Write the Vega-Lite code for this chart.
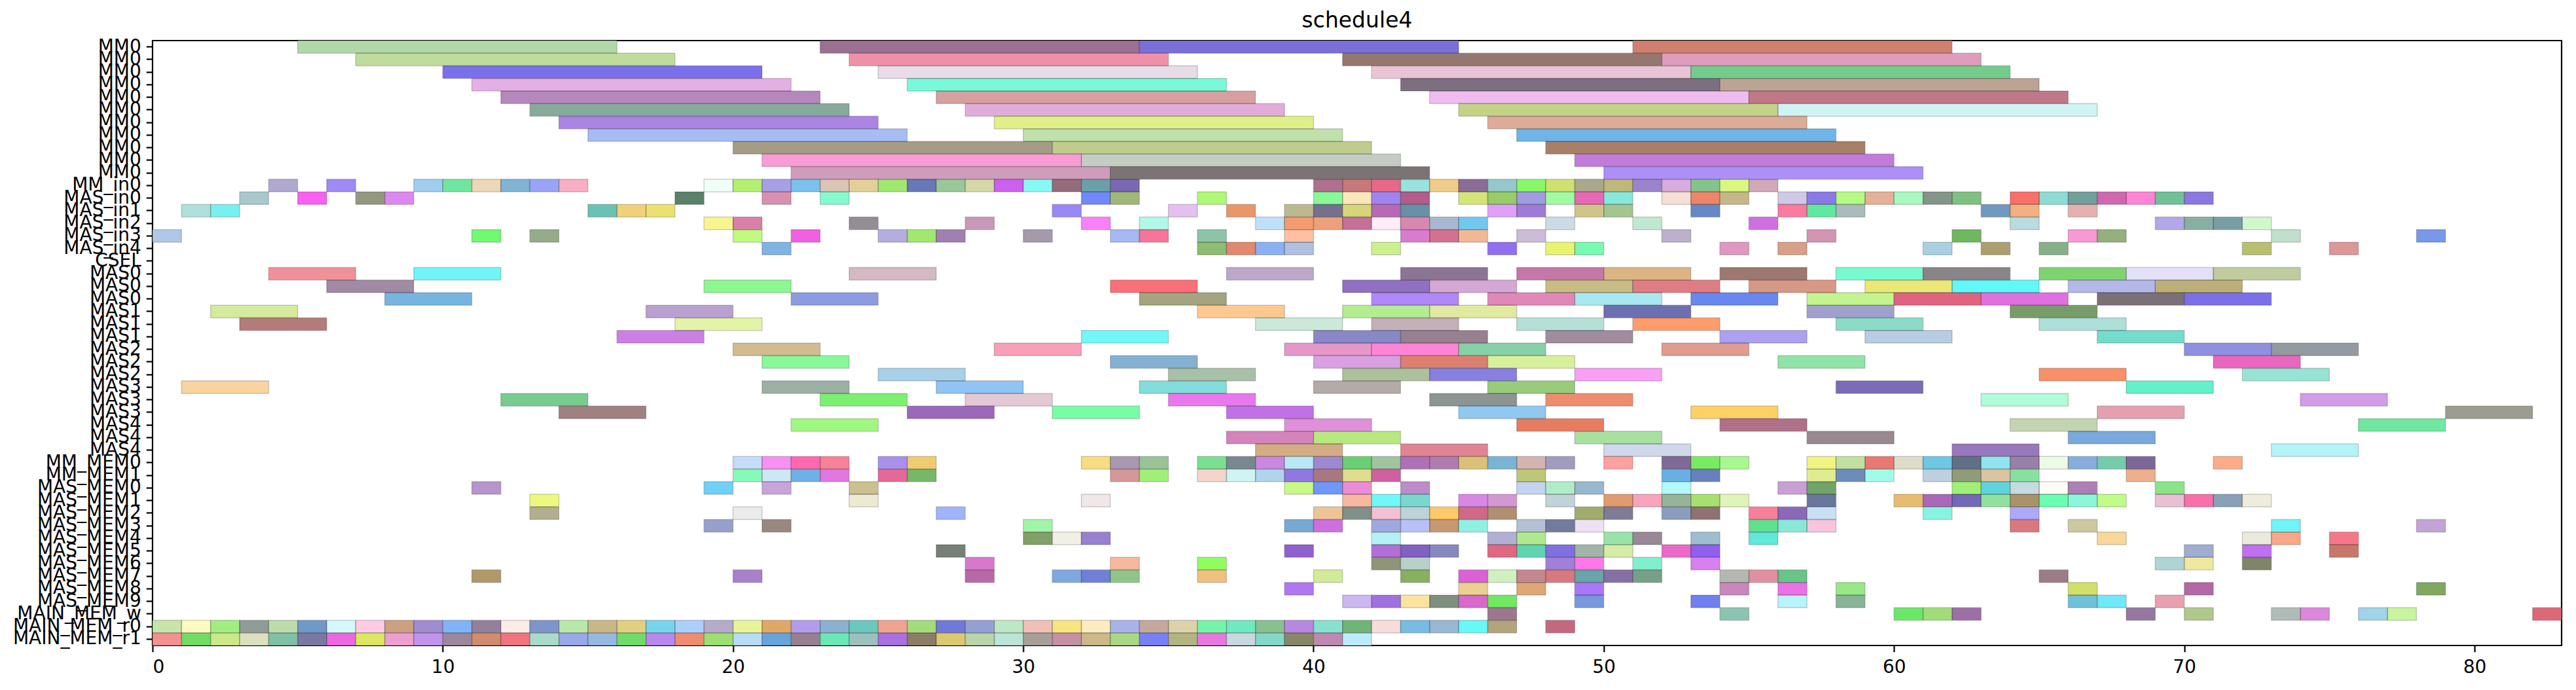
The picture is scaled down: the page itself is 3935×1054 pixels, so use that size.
{
  "$schema": "https://vega.github.io/schema/vega-lite/v6.json",
  "width": 3680,
  "height": 924,
  "autosize": {"type": "none"},
  "padding": {"left": 233, "top": 62, "right": 22, "bottom": 68},
  "background": "white",
  "title": {"text": "schedule4", "font": "DejaVu Sans", "fontSize": 33, "fontWeight": "normal", "color": "black", "offset": 8},
  "config": {
    "view": {"stroke": "black", "strokeWidth": 2.2},
    "axis": {"domain": false, "grid": false, "labelFont": "DejaVu Sans", "labelFontSize": 28, "labelColor": "black", "tickColor": "black", "tickSize": 9.7, "tickWidth": 2.2, "labelOverlap": false, "title": null}
  },
  "data": {"values": [
    {"lane":"00","start":5,"end":16,"task":"000"},{"lane":"00","start":23,"end":34,"task":"001"},{"lane":"00","start":34,"end":45,"task":"002"},{"lane":"00","start":51,"end":62,"task":"003"},
    {"lane":"01","start":7,"end":18,"task":"004"},{"lane":"01","start":24,"end":35,"task":"005"},{"lane":"01","start":41,"end":52,"task":"006"},{"lane":"01","start":52,"end":63,"task":"007"},
    {"lane":"02","start":10,"end":21,"task":"008"},{"lane":"02","start":25,"end":36,"task":"009"},{"lane":"02","start":42,"end":53,"task":"010"},{"lane":"02","start":53,"end":64,"task":"011"},
    {"lane":"03","start":11,"end":22,"task":"012"},{"lane":"03","start":26,"end":37,"task":"013"},{"lane":"03","start":43,"end":54,"task":"014"},{"lane":"03","start":54,"end":65,"task":"015"},
    {"lane":"04","start":12,"end":23,"task":"016"},{"lane":"04","start":27,"end":38,"task":"017"},{"lane":"04","start":44,"end":55,"task":"018"},{"lane":"04","start":55,"end":66,"task":"019"},
    {"lane":"05","start":13,"end":24,"task":"020"},{"lane":"05","start":28,"end":39,"task":"021"},{"lane":"05","start":45,"end":56,"task":"022"},{"lane":"05","start":56,"end":67,"task":"023"},
    {"lane":"06","start":14,"end":25,"task":"024"},{"lane":"06","start":29,"end":40,"task":"025"},{"lane":"06","start":46,"end":57,"task":"026"},
    {"lane":"07","start":15,"end":26,"task":"027"},{"lane":"07","start":30,"end":41,"task":"028"},{"lane":"07","start":47,"end":58,"task":"029"},
    {"lane":"08","start":20,"end":31,"task":"030"},{"lane":"08","start":31,"end":42,"task":"031"},{"lane":"08","start":48,"end":59,"task":"032"},
    {"lane":"09","start":21,"end":32,"task":"033"},{"lane":"09","start":32,"end":43,"task":"034"},{"lane":"09","start":49,"end":60,"task":"035"},
    {"lane":"10","start":22,"end":33,"task":"036"},{"lane":"10","start":33,"end":44,"task":"037"},{"lane":"10","start":50,"end":61,"task":"038"},

    {"lane":"11","start":4,"end":5,"task":"039"},{"lane":"11","start":6,"end":7,"task":"040"},{"lane":"11","start":9,"end":10,"task":"041"},{"lane":"11","start":10,"end":11,"task":"042"},
    {"lane":"11","start":11,"end":12,"task":"043"},{"lane":"11","start":12,"end":13,"task":"044"},{"lane":"11","start":13,"end":14,"task":"045"},{"lane":"11","start":14,"end":15,"task":"046"},
    {"lane":"11","start":19,"end":20,"task":"047"},{"lane":"11","start":20,"end":21,"task":"048"},{"lane":"11","start":21,"end":22,"task":"049"},{"lane":"11","start":22,"end":23,"task":"050"},
    {"lane":"11","start":23,"end":24,"task":"051"},{"lane":"11","start":24,"end":25,"task":"052"},{"lane":"11","start":25,"end":26,"task":"053"},{"lane":"11","start":26,"end":27,"task":"054"},
    {"lane":"11","start":27,"end":28,"task":"055"},{"lane":"11","start":28,"end":29,"task":"056"},{"lane":"11","start":29,"end":30,"task":"057"},{"lane":"11","start":30,"end":31,"task":"058"},
    {"lane":"11","start":31,"end":32,"task":"059"},{"lane":"11","start":32,"end":33,"task":"060"},{"lane":"11","start":33,"end":34,"task":"061"},{"lane":"11","start":40,"end":41,"task":"062"},
    {"lane":"11","start":41,"end":42,"task":"063"},{"lane":"11","start":42,"end":43,"task":"064"},{"lane":"11","start":43,"end":44,"task":"065"},{"lane":"11","start":44,"end":45,"task":"066"},
    {"lane":"11","start":45,"end":46,"task":"067"},{"lane":"11","start":46,"end":47,"task":"068"},{"lane":"11","start":47,"end":48,"task":"069"},{"lane":"11","start":48,"end":49,"task":"070"},
    {"lane":"11","start":49,"end":50,"task":"071"},{"lane":"11","start":50,"end":51,"task":"072"},{"lane":"11","start":51,"end":52,"task":"073"},{"lane":"11","start":52,"end":53,"task":"074"},
    {"lane":"11","start":53,"end":54,"task":"075"},{"lane":"11","start":54,"end":55,"task":"076"},{"lane":"11","start":55,"end":56,"task":"077"},

    {"lane":"12","start":3,"end":4,"task":"078"},{"lane":"12","start":5,"end":6,"task":"079"},{"lane":"12","start":7,"end":8,"task":"080"},{"lane":"12","start":8,"end":9,"task":"081"},
    {"lane":"12","start":18,"end":19,"task":"082"},{"lane":"12","start":21,"end":22,"task":"083"},{"lane":"12","start":23,"end":24,"task":"084"},{"lane":"12","start":32,"end":33,"task":"085"},
    {"lane":"12","start":33,"end":34,"task":"086"},{"lane":"12","start":36,"end":37,"task":"087"},{"lane":"12","start":40,"end":41,"task":"088"},{"lane":"12","start":41,"end":42,"task":"089"},
    {"lane":"12","start":42,"end":43,"task":"090"},{"lane":"12","start":43,"end":44,"task":"091"},{"lane":"12","start":45,"end":46,"task":"092"},{"lane":"12","start":46,"end":47,"task":"093"},
    {"lane":"12","start":47,"end":48,"task":"094"},{"lane":"12","start":48,"end":49,"task":"095"},{"lane":"12","start":49,"end":50,"task":"096"},{"lane":"12","start":50,"end":51,"task":"097"},
    {"lane":"12","start":52,"end":53,"task":"098"},{"lane":"12","start":53,"end":54,"task":"099"},{"lane":"12","start":54,"end":55,"task":"100"},{"lane":"12","start":56,"end":57,"task":"101"},
    {"lane":"12","start":57,"end":58,"task":"102"},{"lane":"12","start":58,"end":59,"task":"103"},{"lane":"12","start":59,"end":60,"task":"104"},{"lane":"12","start":60,"end":61,"task":"105"},
    {"lane":"12","start":61,"end":62,"task":"106"},{"lane":"12","start":62,"end":63,"task":"107"},{"lane":"12","start":64,"end":65,"task":"108"},{"lane":"12","start":65,"end":66,"task":"109"},
    {"lane":"12","start":66,"end":67,"task":"110"},{"lane":"12","start":67,"end":68,"task":"111"},{"lane":"12","start":68,"end":69,"task":"112"},{"lane":"12","start":69,"end":70,"task":"113"},
    {"lane":"12","start":70,"end":71,"task":"114"},

    {"lane":"13","start":1,"end":2,"task":"115"},{"lane":"13","start":2,"end":3,"task":"116"},{"lane":"13","start":15,"end":16,"task":"117"},{"lane":"13","start":16,"end":17,"task":"118"},
    {"lane":"13","start":17,"end":18,"task":"119"},{"lane":"13","start":31,"end":32,"task":"120"},{"lane":"13","start":35,"end":36,"task":"121"},{"lane":"13","start":37,"end":38,"task":"122"},
    {"lane":"13","start":39,"end":40,"task":"123"},{"lane":"13","start":40,"end":41,"task":"124"},{"lane":"13","start":41,"end":42,"task":"125"},{"lane":"13","start":42,"end":43,"task":"126"},
    {"lane":"13","start":43,"end":44,"task":"127"},{"lane":"13","start":46,"end":47,"task":"128"},{"lane":"13","start":47,"end":48,"task":"129"},{"lane":"13","start":49,"end":50,"task":"130"},
    {"lane":"13","start":50,"end":51,"task":"131"},{"lane":"13","start":53,"end":54,"task":"132"},{"lane":"13","start":56,"end":57,"task":"133"},{"lane":"13","start":57,"end":58,"task":"134"},
    {"lane":"13","start":58,"end":59,"task":"135"},{"lane":"13","start":63,"end":64,"task":"136"},{"lane":"13","start":64,"end":65,"task":"137"},{"lane":"13","start":66,"end":67,"task":"138"},

    {"lane":"14","start":19,"end":20,"task":"139"},{"lane":"14","start":20,"end":21,"task":"140"},{"lane":"14","start":24,"end":25,"task":"141"},{"lane":"14","start":28,"end":29,"task":"142"},
    {"lane":"14","start":32,"end":33,"task":"143"},{"lane":"14","start":34,"end":35,"task":"144"},{"lane":"14","start":38,"end":39,"task":"145"},{"lane":"14","start":39,"end":40,"task":"146"},
    {"lane":"14","start":40,"end":41,"task":"147"},{"lane":"14","start":41,"end":42,"task":"148"},{"lane":"14","start":42,"end":43,"task":"149"},{"lane":"14","start":43,"end":44,"task":"150"},
    {"lane":"14","start":44,"end":45,"task":"151"},{"lane":"14","start":45,"end":46,"task":"152"},{"lane":"14","start":48,"end":49,"task":"153"},{"lane":"14","start":51,"end":52,"task":"154"},
    {"lane":"14","start":55,"end":56,"task":"155"},{"lane":"14","start":64,"end":65,"task":"156"},{"lane":"14","start":69,"end":70,"task":"157"},{"lane":"14","start":70,"end":71,"task":"158"},
    {"lane":"14","start":71,"end":72,"task":"159"},{"lane":"14","start":72,"end":73,"task":"160"},

    {"lane":"15","start":0,"end":1,"task":"161"},{"lane":"15","start":11,"end":12,"task":"162"},{"lane":"15","start":13,"end":14,"task":"163"},{"lane":"15","start":20,"end":21,"task":"164"},
    {"lane":"15","start":22,"end":23,"task":"165"},{"lane":"15","start":25,"end":26,"task":"166"},{"lane":"15","start":26,"end":27,"task":"167"},{"lane":"15","start":27,"end":28,"task":"168"},
    {"lane":"15","start":30,"end":31,"task":"169"},{"lane":"15","start":33,"end":34,"task":"170"},{"lane":"15","start":34,"end":35,"task":"171"},{"lane":"15","start":36,"end":37,"task":"172"},
    {"lane":"15","start":39,"end":40,"task":"173"},{"lane":"15","start":43,"end":44,"task":"174"},{"lane":"15","start":44,"end":45,"task":"175"},{"lane":"15","start":45,"end":46,"task":"176"},
    {"lane":"15","start":47,"end":48,"task":"177"},{"lane":"15","start":52,"end":53,"task":"178"},{"lane":"15","start":57,"end":58,"task":"179"},{"lane":"15","start":62,"end":63,"task":"180"},
    {"lane":"15","start":66,"end":67,"task":"181"},{"lane":"15","start":67,"end":68,"task":"182"},{"lane":"15","start":73,"end":74,"task":"183"},{"lane":"15","start":78,"end":79,"task":"184"},

    {"lane":"16","start":21,"end":22,"task":"185"},{"lane":"16","start":36,"end":37,"task":"186"},{"lane":"16","start":37,"end":38,"task":"187"},{"lane":"16","start":38,"end":39,"task":"188"},
    {"lane":"16","start":39,"end":40,"task":"189"},{"lane":"16","start":42,"end":43,"task":"190"},{"lane":"16","start":46,"end":47,"task":"191"},{"lane":"16","start":48,"end":49,"task":"192"},
    {"lane":"16","start":49,"end":50,"task":"193"},{"lane":"16","start":54,"end":55,"task":"194"},{"lane":"16","start":56,"end":57,"task":"195"},{"lane":"16","start":61,"end":62,"task":"196"},
    {"lane":"16","start":63,"end":64,"task":"197"},{"lane":"16","start":65,"end":66,"task":"198"},{"lane":"16","start":72,"end":73,"task":"199"},{"lane":"16","start":75,"end":76,"task":"200"},

    {"lane":"18","start":4,"end":7,"task":"201"},{"lane":"18","start":9,"end":12,"task":"202"},{"lane":"18","start":24,"end":27,"task":"203"},{"lane":"18","start":37,"end":40,"task":"204"},
    {"lane":"18","start":43,"end":46,"task":"205"},{"lane":"18","start":47,"end":50,"task":"206"},{"lane":"18","start":50,"end":53,"task":"207"},{"lane":"18","start":54,"end":57,"task":"208"},
    {"lane":"18","start":58,"end":61,"task":"209"},{"lane":"18","start":61,"end":64,"task":"210"},{"lane":"18","start":65,"end":68,"task":"211"},{"lane":"18","start":68,"end":71,"task":"212"},
    {"lane":"18","start":71,"end":74,"task":"213"},

    {"lane":"19","start":6,"end":9,"task":"214"},{"lane":"19","start":19,"end":22,"task":"215"},{"lane":"19","start":33,"end":36,"task":"216"},{"lane":"19","start":41,"end":44,"task":"217"},
    {"lane":"19","start":44,"end":47,"task":"218"},{"lane":"19","start":48,"end":51,"task":"219"},{"lane":"19","start":51,"end":54,"task":"220"},{"lane":"19","start":55,"end":58,"task":"221"},
    {"lane":"19","start":59,"end":62,"task":"222"},{"lane":"19","start":62,"end":65,"task":"223"},{"lane":"19","start":66,"end":69,"task":"224"},{"lane":"19","start":69,"end":72,"task":"225"},

    {"lane":"20","start":8,"end":11,"task":"226"},{"lane":"20","start":22,"end":25,"task":"227"},{"lane":"20","start":34,"end":37,"task":"228"},{"lane":"20","start":42,"end":45,"task":"229"},
    {"lane":"20","start":46,"end":49,"task":"230"},{"lane":"20","start":49,"end":52,"task":"231"},{"lane":"20","start":53,"end":56,"task":"232"},{"lane":"20","start":57,"end":60,"task":"233"},
    {"lane":"20","start":60,"end":63,"task":"234"},{"lane":"20","start":63,"end":66,"task":"235"},{"lane":"20","start":67,"end":70,"task":"236"},{"lane":"20","start":70,"end":73,"task":"237"},

    {"lane":"21","start":2,"end":5,"task":"238"},{"lane":"21","start":17,"end":20,"task":"239"},{"lane":"21","start":36,"end":39,"task":"240"},{"lane":"21","start":41,"end":44,"task":"241"},
    {"lane":"21","start":44,"end":47,"task":"242"},{"lane":"21","start":50,"end":53,"task":"243"},{"lane":"21","start":57,"end":60,"task":"244"},{"lane":"21","start":64,"end":67,"task":"245"},

    {"lane":"22","start":3,"end":6,"task":"246"},{"lane":"22","start":18,"end":21,"task":"247"},{"lane":"22","start":38,"end":41,"task":"248"},{"lane":"22","start":42,"end":45,"task":"249"},
    {"lane":"22","start":47,"end":50,"task":"250"},{"lane":"22","start":51,"end":54,"task":"251"},{"lane":"22","start":58,"end":61,"task":"252"},{"lane":"22","start":65,"end":68,"task":"253"},

    {"lane":"23","start":16,"end":19,"task":"254"},{"lane":"23","start":32,"end":35,"task":"255"},{"lane":"23","start":40,"end":43,"task":"256"},{"lane":"23","start":43,"end":46,"task":"257"},
    {"lane":"23","start":48,"end":51,"task":"258"},{"lane":"23","start":54,"end":57,"task":"259"},{"lane":"23","start":59,"end":62,"task":"260"},{"lane":"23","start":67,"end":70,"task":"261"},

    {"lane":"24","start":20,"end":23,"task":"262"},{"lane":"24","start":29,"end":32,"task":"263"},{"lane":"24","start":39,"end":42,"task":"264"},{"lane":"24","start":42,"end":45,"task":"265"},
    {"lane":"24","start":45,"end":48,"task":"266"},{"lane":"24","start":52,"end":55,"task":"267"},{"lane":"24","start":70,"end":73,"task":"268"},{"lane":"24","start":73,"end":76,"task":"269"},

    {"lane":"25","start":21,"end":24,"task":"270"},{"lane":"25","start":33,"end":36,"task":"271"},{"lane":"25","start":40,"end":43,"task":"272"},{"lane":"25","start":43,"end":46,"task":"273"},
    {"lane":"25","start":46,"end":49,"task":"274"},{"lane":"25","start":56,"end":59,"task":"275"},{"lane":"25","start":71,"end":74,"task":"276"},

    {"lane":"26","start":25,"end":28,"task":"277"},{"lane":"26","start":35,"end":38,"task":"278"},{"lane":"26","start":41,"end":44,"task":"279"},{"lane":"26","start":44,"end":47,"task":"280"},
    {"lane":"26","start":49,"end":52,"task":"281"},{"lane":"26","start":65,"end":68,"task":"282"},{"lane":"26","start":72,"end":75,"task":"283"},

    {"lane":"27","start":1,"end":4,"task":"284"},{"lane":"27","start":21,"end":24,"task":"285"},{"lane":"27","start":27,"end":30,"task":"286"},{"lane":"27","start":34,"end":37,"task":"287"},
    {"lane":"27","start":40,"end":43,"task":"288"},{"lane":"27","start":46,"end":49,"task":"289"},{"lane":"27","start":58,"end":61,"task":"290"},{"lane":"27","start":68,"end":71,"task":"291"},

    {"lane":"28","start":12,"end":15,"task":"292"},{"lane":"28","start":23,"end":26,"task":"293"},{"lane":"28","start":28,"end":31,"task":"294"},{"lane":"28","start":35,"end":38,"task":"295"},
    {"lane":"28","start":44,"end":47,"task":"296"},{"lane":"28","start":48,"end":51,"task":"297"},{"lane":"28","start":63,"end":66,"task":"298"},{"lane":"28","start":74,"end":77,"task":"299"},

    {"lane":"29","start":14,"end":17,"task":"300"},{"lane":"29","start":26,"end":29,"task":"301"},{"lane":"29","start":31,"end":34,"task":"302"},{"lane":"29","start":37,"end":40,"task":"303"},
    {"lane":"29","start":45,"end":48,"task":"304"},{"lane":"29","start":53,"end":56,"task":"305"},{"lane":"29","start":67,"end":70,"task":"306"},{"lane":"29","start":79,"end":82,"task":"307"},

    {"lane":"30","start":22,"end":25,"task":"308"},{"lane":"30","start":39,"end":42,"task":"309"},{"lane":"30","start":47,"end":50,"task":"310"},{"lane":"30","start":54,"end":57,"task":"311"},
    {"lane":"30","start":64,"end":67,"task":"312"},{"lane":"30","start":76,"end":79,"task":"313"},

    {"lane":"31","start":37,"end":40,"task":"314"},{"lane":"31","start":40,"end":43,"task":"315"},{"lane":"31","start":49,"end":52,"task":"316"},{"lane":"31","start":57,"end":60,"task":"317"},
    {"lane":"31","start":66,"end":69,"task":"318"},

    {"lane":"32","start":38,"end":41,"task":"319"},{"lane":"32","start":43,"end":46,"task":"320"},{"lane":"32","start":50,"end":53,"task":"321"},{"lane":"32","start":62,"end":65,"task":"322"},
    {"lane":"32","start":73,"end":76,"task":"323"},

    {"lane":"33","start":20,"end":21,"task":"324"},{"lane":"33","start":21,"end":22,"task":"325"},{"lane":"33","start":22,"end":23,"task":"326"},{"lane":"33","start":23,"end":24,"task":"327"},
    {"lane":"33","start":25,"end":26,"task":"328"},{"lane":"33","start":26,"end":27,"task":"329"},{"lane":"33","start":32,"end":33,"task":"330"},{"lane":"33","start":33,"end":34,"task":"331"},
    {"lane":"33","start":34,"end":35,"task":"332"},{"lane":"33","start":36,"end":37,"task":"333"},{"lane":"33","start":37,"end":38,"task":"334"},{"lane":"33","start":38,"end":39,"task":"335"},
    {"lane":"33","start":39,"end":40,"task":"336"},{"lane":"33","start":40,"end":41,"task":"337"},{"lane":"33","start":41,"end":42,"task":"338"},{"lane":"33","start":42,"end":43,"task":"339"},
    {"lane":"33","start":43,"end":44,"task":"340"},{"lane":"33","start":44,"end":45,"task":"341"},{"lane":"33","start":45,"end":46,"task":"342"},{"lane":"33","start":46,"end":47,"task":"343"},
    {"lane":"33","start":47,"end":48,"task":"344"},{"lane":"33","start":48,"end":49,"task":"345"},{"lane":"33","start":50,"end":51,"task":"346"},{"lane":"33","start":52,"end":53,"task":"347"},
    {"lane":"33","start":53,"end":54,"task":"348"},{"lane":"33","start":54,"end":55,"task":"349"},{"lane":"33","start":57,"end":58,"task":"350"},{"lane":"33","start":58,"end":59,"task":"351"},
    {"lane":"33","start":59,"end":60,"task":"352"},{"lane":"33","start":60,"end":61,"task":"353"},{"lane":"33","start":61,"end":62,"task":"354"},{"lane":"33","start":62,"end":63,"task":"355"},
    {"lane":"33","start":63,"end":64,"task":"356"},{"lane":"33","start":64,"end":65,"task":"357"},{"lane":"33","start":65,"end":66,"task":"358"},{"lane":"33","start":66,"end":67,"task":"359"},
    {"lane":"33","start":67,"end":68,"task":"360"},{"lane":"33","start":68,"end":69,"task":"361"},{"lane":"33","start":71,"end":72,"task":"362"},

    {"lane":"34","start":20,"end":21,"task":"363"},{"lane":"34","start":21,"end":22,"task":"364"},{"lane":"34","start":22,"end":23,"task":"365"},{"lane":"34","start":23,"end":24,"task":"366"},
    {"lane":"34","start":25,"end":26,"task":"367"},{"lane":"34","start":26,"end":27,"task":"368"},{"lane":"34","start":33,"end":34,"task":"369"},{"lane":"34","start":34,"end":35,"task":"370"},
    {"lane":"34","start":36,"end":37,"task":"371"},{"lane":"34","start":37,"end":38,"task":"372"},{"lane":"34","start":38,"end":39,"task":"373"},{"lane":"34","start":39,"end":40,"task":"374"},
    {"lane":"34","start":40,"end":41,"task":"375"},{"lane":"34","start":41,"end":42,"task":"376"},{"lane":"34","start":42,"end":43,"task":"377"},{"lane":"34","start":47,"end":48,"task":"378"},
    {"lane":"34","start":52,"end":53,"task":"379"},{"lane":"34","start":53,"end":54,"task":"380"},{"lane":"34","start":57,"end":58,"task":"381"},{"lane":"34","start":58,"end":59,"task":"382"},
    {"lane":"34","start":59,"end":60,"task":"383"},{"lane":"34","start":61,"end":62,"task":"384"},{"lane":"34","start":62,"end":63,"task":"385"},{"lane":"34","start":63,"end":64,"task":"386"},
    {"lane":"34","start":64,"end":65,"task":"387"},{"lane":"34","start":68,"end":69,"task":"388"},

    {"lane":"35","start":11,"end":12,"task":"389"},{"lane":"35","start":19,"end":20,"task":"390"},{"lane":"35","start":21,"end":22,"task":"391"},{"lane":"35","start":24,"end":25,"task":"392"},
    {"lane":"35","start":39,"end":40,"task":"393"},{"lane":"35","start":40,"end":41,"task":"394"},{"lane":"35","start":41,"end":42,"task":"395"},{"lane":"35","start":43,"end":44,"task":"396"},
    {"lane":"35","start":47,"end":48,"task":"397"},{"lane":"35","start":48,"end":49,"task":"398"},{"lane":"35","start":49,"end":50,"task":"399"},{"lane":"35","start":52,"end":53,"task":"400"},
    {"lane":"35","start":56,"end":57,"task":"401"},{"lane":"35","start":57,"end":58,"task":"402"},{"lane":"35","start":62,"end":63,"task":"403"},{"lane":"35","start":63,"end":64,"task":"404"},
    {"lane":"35","start":64,"end":65,"task":"405"},{"lane":"35","start":65,"end":66,"task":"406"},{"lane":"35","start":66,"end":67,"task":"407"},{"lane":"35","start":69,"end":70,"task":"408"},

    {"lane":"36","start":13,"end":14,"task":"409"},{"lane":"36","start":24,"end":25,"task":"410"},{"lane":"36","start":32,"end":33,"task":"411"},{"lane":"36","start":41,"end":42,"task":"412"},
    {"lane":"36","start":42,"end":43,"task":"413"},{"lane":"36","start":43,"end":44,"task":"414"},{"lane":"36","start":45,"end":46,"task":"415"},{"lane":"36","start":46,"end":47,"task":"416"},
    {"lane":"36","start":48,"end":49,"task":"417"},{"lane":"36","start":50,"end":51,"task":"418"},{"lane":"36","start":51,"end":52,"task":"419"},{"lane":"36","start":52,"end":53,"task":"420"},
    {"lane":"36","start":53,"end":54,"task":"421"},{"lane":"36","start":54,"end":55,"task":"422"},{"lane":"36","start":57,"end":58,"task":"423"},{"lane":"36","start":60,"end":61,"task":"424"},
    {"lane":"36","start":61,"end":62,"task":"425"},{"lane":"36","start":62,"end":63,"task":"426"},{"lane":"36","start":63,"end":64,"task":"427"},{"lane":"36","start":64,"end":65,"task":"428"},
    {"lane":"36","start":65,"end":66,"task":"429"},{"lane":"36","start":66,"end":67,"task":"430"},{"lane":"36","start":67,"end":68,"task":"431"},{"lane":"36","start":69,"end":70,"task":"432"},
    {"lane":"36","start":70,"end":71,"task":"433"},{"lane":"36","start":71,"end":72,"task":"434"},{"lane":"36","start":72,"end":73,"task":"435"},

    {"lane":"37","start":13,"end":14,"task":"436"},{"lane":"37","start":20,"end":21,"task":"437"},{"lane":"37","start":27,"end":28,"task":"438"},{"lane":"37","start":40,"end":41,"task":"439"},
    {"lane":"37","start":41,"end":42,"task":"440"},{"lane":"37","start":42,"end":43,"task":"441"},{"lane":"37","start":43,"end":44,"task":"442"},{"lane":"37","start":44,"end":45,"task":"443"},
    {"lane":"37","start":45,"end":46,"task":"444"},{"lane":"37","start":46,"end":47,"task":"445"},{"lane":"37","start":49,"end":50,"task":"446"},{"lane":"37","start":50,"end":51,"task":"447"},
    {"lane":"37","start":52,"end":53,"task":"448"},{"lane":"37","start":53,"end":54,"task":"449"},{"lane":"37","start":55,"end":56,"task":"450"},{"lane":"37","start":56,"end":57,"task":"451"},
    {"lane":"37","start":57,"end":58,"task":"452"},{"lane":"37","start":61,"end":62,"task":"453"},{"lane":"37","start":64,"end":65,"task":"454"},

    {"lane":"38","start":19,"end":20,"task":"455"},{"lane":"38","start":21,"end":22,"task":"456"},{"lane":"38","start":30,"end":31,"task":"457"},{"lane":"38","start":39,"end":40,"task":"458"},
    {"lane":"38","start":40,"end":41,"task":"459"},{"lane":"38","start":42,"end":43,"task":"460"},{"lane":"38","start":43,"end":44,"task":"461"},{"lane":"38","start":44,"end":45,"task":"462"},
    {"lane":"38","start":45,"end":46,"task":"463"},{"lane":"38","start":47,"end":48,"task":"464"},{"lane":"38","start":48,"end":49,"task":"465"},{"lane":"38","start":49,"end":50,"task":"466"},
    {"lane":"38","start":55,"end":56,"task":"467"},{"lane":"38","start":56,"end":57,"task":"468"},{"lane":"38","start":57,"end":58,"task":"469"},{"lane":"38","start":64,"end":65,"task":"470"},
    {"lane":"38","start":66,"end":67,"task":"471"},{"lane":"38","start":73,"end":74,"task":"472"},{"lane":"38","start":78,"end":79,"task":"473"},

    {"lane":"39","start":30,"end":31,"task":"474"},{"lane":"39","start":31,"end":32,"task":"475"},{"lane":"39","start":32,"end":33,"task":"476"},{"lane":"39","start":42,"end":43,"task":"477"},
    {"lane":"39","start":46,"end":47,"task":"478"},{"lane":"39","start":47,"end":48,"task":"479"},{"lane":"39","start":50,"end":51,"task":"480"},{"lane":"39","start":51,"end":52,"task":"481"},
    {"lane":"39","start":53,"end":54,"task":"482"},{"lane":"39","start":55,"end":56,"task":"483"},{"lane":"39","start":67,"end":68,"task":"484"},{"lane":"39","start":72,"end":73,"task":"485"},
    {"lane":"39","start":73,"end":74,"task":"486"},{"lane":"39","start":75,"end":76,"task":"487"},

    {"lane":"40","start":27,"end":28,"task":"488"},{"lane":"40","start":39,"end":40,"task":"489"},{"lane":"40","start":42,"end":43,"task":"490"},{"lane":"40","start":43,"end":44,"task":"491"},
    {"lane":"40","start":44,"end":45,"task":"492"},{"lane":"40","start":46,"end":47,"task":"493"},{"lane":"40","start":47,"end":48,"task":"494"},{"lane":"40","start":48,"end":49,"task":"495"},
    {"lane":"40","start":49,"end":50,"task":"496"},{"lane":"40","start":50,"end":51,"task":"497"},{"lane":"40","start":52,"end":53,"task":"498"},{"lane":"40","start":53,"end":54,"task":"499"},
    {"lane":"40","start":70,"end":71,"task":"500"},{"lane":"40","start":72,"end":73,"task":"501"},{"lane":"40","start":75,"end":76,"task":"502"},

    {"lane":"41","start":28,"end":29,"task":"503"},{"lane":"41","start":33,"end":34,"task":"504"},{"lane":"41","start":36,"end":37,"task":"505"},{"lane":"41","start":42,"end":43,"task":"506"},
    {"lane":"41","start":43,"end":44,"task":"507"},{"lane":"41","start":48,"end":49,"task":"508"},{"lane":"41","start":49,"end":50,"task":"509"},{"lane":"41","start":51,"end":52,"task":"510"},
    {"lane":"41","start":53,"end":54,"task":"511"},{"lane":"41","start":69,"end":70,"task":"512"},{"lane":"41","start":70,"end":71,"task":"513"},{"lane":"41","start":72,"end":73,"task":"514"},

    {"lane":"42","start":11,"end":12,"task":"515"},{"lane":"42","start":20,"end":21,"task":"516"},{"lane":"42","start":28,"end":29,"task":"517"},{"lane":"42","start":31,"end":32,"task":"518"},
    {"lane":"42","start":32,"end":33,"task":"519"},{"lane":"42","start":33,"end":34,"task":"520"},{"lane":"42","start":36,"end":37,"task":"521"},{"lane":"42","start":40,"end":41,"task":"522"},
    {"lane":"42","start":43,"end":44,"task":"523"},{"lane":"42","start":45,"end":46,"task":"524"},{"lane":"42","start":46,"end":47,"task":"525"},{"lane":"42","start":47,"end":48,"task":"526"},
    {"lane":"42","start":48,"end":49,"task":"527"},{"lane":"42","start":49,"end":50,"task":"528"},{"lane":"42","start":50,"end":51,"task":"529"},{"lane":"42","start":51,"end":52,"task":"530"},
    {"lane":"42","start":54,"end":55,"task":"531"},{"lane":"42","start":55,"end":56,"task":"532"},{"lane":"42","start":56,"end":57,"task":"533"},{"lane":"42","start":65,"end":66,"task":"534"},

    {"lane":"43","start":39,"end":40,"task":"535"},{"lane":"43","start":45,"end":46,"task":"536"},{"lane":"43","start":47,"end":48,"task":"537"},{"lane":"43","start":49,"end":50,"task":"538"},
    {"lane":"43","start":54,"end":55,"task":"539"},{"lane":"43","start":56,"end":57,"task":"540"},{"lane":"43","start":58,"end":59,"task":"541"},{"lane":"43","start":66,"end":67,"task":"542"},
    {"lane":"43","start":70,"end":71,"task":"543"},{"lane":"43","start":78,"end":79,"task":"544"},

    {"lane":"44","start":41,"end":42,"task":"545"},{"lane":"44","start":42,"end":43,"task":"546"},{"lane":"44","start":43,"end":44,"task":"547"},{"lane":"44","start":44,"end":45,"task":"548"},
    {"lane":"44","start":45,"end":46,"task":"549"},{"lane":"44","start":46,"end":47,"task":"550"},{"lane":"44","start":49,"end":50,"task":"551"},{"lane":"44","start":53,"end":54,"task":"552"},
    {"lane":"44","start":56,"end":57,"task":"553"},{"lane":"44","start":58,"end":59,"task":"554"},{"lane":"44","start":66,"end":67,"task":"555"},{"lane":"44","start":67,"end":68,"task":"556"},
    {"lane":"44","start":69,"end":70,"task":"557"},

    {"lane":"45","start":46,"end":47,"task":"558"},{"lane":"45","start":54,"end":55,"task":"559"},{"lane":"45","start":60,"end":61,"task":"560"},{"lane":"45","start":61,"end":62,"task":"561"},
    {"lane":"45","start":62,"end":63,"task":"562"},{"lane":"45","start":68,"end":69,"task":"563"},{"lane":"45","start":70,"end":71,"task":"564"},{"lane":"45","start":73,"end":74,"task":"565"},
    {"lane":"45","start":74,"end":75,"task":"566"},{"lane":"45","start":76,"end":77,"task":"567"},{"lane":"45","start":77,"end":78,"task":"568"},{"lane":"45","start":82,"end":83,"task":"569"},

    {"lane":"46","start":0,"end":1,"task":"570"},{"lane":"46","start":1,"end":2,"task":"571"},{"lane":"46","start":2,"end":3,"task":"572"},{"lane":"46","start":3,"end":4,"task":"573"},
    {"lane":"46","start":4,"end":5,"task":"574"},{"lane":"46","start":5,"end":6,"task":"575"},{"lane":"46","start":6,"end":7,"task":"576"},{"lane":"46","start":7,"end":8,"task":"577"},
    {"lane":"46","start":8,"end":9,"task":"578"},{"lane":"46","start":9,"end":10,"task":"579"},{"lane":"46","start":10,"end":11,"task":"580"},{"lane":"46","start":11,"end":12,"task":"581"},
    {"lane":"46","start":12,"end":13,"task":"582"},{"lane":"46","start":13,"end":14,"task":"583"},{"lane":"46","start":14,"end":15,"task":"584"},{"lane":"46","start":15,"end":16,"task":"585"},
    {"lane":"46","start":16,"end":17,"task":"586"},{"lane":"46","start":17,"end":18,"task":"587"},{"lane":"46","start":18,"end":19,"task":"588"},{"lane":"46","start":19,"end":20,"task":"589"},
    {"lane":"46","start":20,"end":21,"task":"590"},{"lane":"46","start":21,"end":22,"task":"591"},{"lane":"46","start":22,"end":23,"task":"592"},{"lane":"46","start":23,"end":24,"task":"593"},
    {"lane":"46","start":24,"end":25,"task":"594"},{"lane":"46","start":25,"end":26,"task":"595"},{"lane":"46","start":26,"end":27,"task":"596"},{"lane":"46","start":27,"end":28,"task":"597"},
    {"lane":"46","start":28,"end":29,"task":"598"},{"lane":"46","start":29,"end":30,"task":"599"},{"lane":"46","start":30,"end":31,"task":"600"},{"lane":"46","start":31,"end":32,"task":"601"},
    {"lane":"46","start":32,"end":33,"task":"602"},{"lane":"46","start":33,"end":34,"task":"603"},{"lane":"46","start":34,"end":35,"task":"604"},{"lane":"46","start":35,"end":36,"task":"605"},
    {"lane":"46","start":36,"end":37,"task":"606"},{"lane":"46","start":37,"end":38,"task":"607"},{"lane":"46","start":38,"end":39,"task":"608"},{"lane":"46","start":39,"end":40,"task":"609"},
    {"lane":"46","start":40,"end":41,"task":"610"},{"lane":"46","start":41,"end":42,"task":"611"},{"lane":"46","start":42,"end":43,"task":"612"},{"lane":"46","start":43,"end":44,"task":"613"},
    {"lane":"46","start":44,"end":45,"task":"614"},{"lane":"46","start":45,"end":46,"task":"615"},{"lane":"46","start":46,"end":47,"task":"616"},{"lane":"46","start":48,"end":49,"task":"617"},

    {"lane":"47","start":0,"end":1,"task":"618"},{"lane":"47","start":1,"end":2,"task":"619"},{"lane":"47","start":2,"end":3,"task":"620"},{"lane":"47","start":3,"end":4,"task":"621"},
    {"lane":"47","start":4,"end":5,"task":"622"},{"lane":"47","start":5,"end":6,"task":"623"},{"lane":"47","start":6,"end":7,"task":"624"},{"lane":"47","start":7,"end":8,"task":"625"},
    {"lane":"47","start":8,"end":9,"task":"626"},{"lane":"47","start":9,"end":10,"task":"627"},{"lane":"47","start":10,"end":11,"task":"628"},{"lane":"47","start":11,"end":12,"task":"629"},
    {"lane":"47","start":12,"end":13,"task":"630"},{"lane":"47","start":13,"end":14,"task":"631"},{"lane":"47","start":14,"end":15,"task":"632"},{"lane":"47","start":15,"end":16,"task":"633"},
    {"lane":"47","start":16,"end":17,"task":"634"},{"lane":"47","start":17,"end":18,"task":"635"},{"lane":"47","start":18,"end":19,"task":"636"},{"lane":"47","start":19,"end":20,"task":"637"},
    {"lane":"47","start":20,"end":21,"task":"638"},{"lane":"47","start":21,"end":22,"task":"639"},{"lane":"47","start":22,"end":23,"task":"640"},{"lane":"47","start":23,"end":24,"task":"641"},
    {"lane":"47","start":24,"end":25,"task":"642"},{"lane":"47","start":25,"end":26,"task":"643"},{"lane":"47","start":26,"end":27,"task":"644"},{"lane":"47","start":27,"end":28,"task":"645"},
    {"lane":"47","start":28,"end":29,"task":"646"},{"lane":"47","start":29,"end":30,"task":"647"},{"lane":"47","start":30,"end":31,"task":"648"},{"lane":"47","start":31,"end":32,"task":"649"},
    {"lane":"47","start":32,"end":33,"task":"650"},{"lane":"47","start":33,"end":34,"task":"651"},{"lane":"47","start":34,"end":35,"task":"652"},{"lane":"47","start":35,"end":36,"task":"653"},
    {"lane":"47","start":36,"end":37,"task":"654"},{"lane":"47","start":37,"end":38,"task":"655"},{"lane":"47","start":38,"end":39,"task":"656"},{"lane":"47","start":39,"end":40,"task":"657"},
    {"lane":"47","start":40,"end":41,"task":"658"},{"lane":"47","start":41,"end":42,"task":"659"}
  ]},
  "encoding": {
    "y": {
      "field": "lane",
      "type": "nominal",
      "scale": {
        "domain": ["00","01","02","03","04","05","06","07","08","09","10","11","12","13","14","15","16","17","18","19","20","21","22","23","24","25","26","27","28","29","30","31","32","33","34","35","36","37","38","39","40","41","42","43","44","45","46","47"],
        "paddingInner": 0,
        "paddingOuter": 0
      },
      "axis": {
        "labelPadding": 8,
        "labelLimit": 400,
        "labelExpr": "['MM0','MM0','MM0','MM0','MM0','MM0','MM0','MM0','MM0','MM0','MM0','MM_in0','MAS_in0','MAS_in1','MAS_in2','MAS_in3','MAS_in4','CSEL','MAS0','MAS0','MAS0','MAS1','MAS1','MAS1','MAS2','MAS2','MAS2','MAS3','MAS3','MAS3','MAS4','MAS4','MAS4','MM_MEM0','MM_MEM1','MAS_MEM0','MAS_MEM1','MAS_MEM2','MAS_MEM3','MAS_MEM4','MAS_MEM5','MAS_MEM6','MAS_MEM7','MAS_MEM8','MAS_MEM9','MAIN_MEM_w','MAIN_MEM_r0','MAIN_MEM_r1'][toNumber(datum.value)]"
      }
    },
    "x": {
      "field": "start",
      "type": "quantitative",
      "scale": {"domain": [0, 83], "nice": false, "zero": false},
      "axis": {"values": [0, 10, 20, 30, 40, 50, 60, 70, 80], "labelPadding": 10}
    },
    "x2": {"field": "end"}
  },
  "layer": [
    {
      "mark": {"type": "bar", "fillOpacity": 1},
      "encoding": {
        "color": {
          "field": "task",
          "type": "nominal",
          "legend": null,
          "scale": {"range": [
            "#b0d8a8","#9c7090","#7b70d8","#d08070","#c0dc9c","#f090a8","#947870","#e09cbc","#7a70ec","#e8dce8","#e8c4d4","#74cc8c","#e4b0e4","#78fad8","#7c7080","#bca494","#b488bc","#d6a0a0","#f0bcf0","#c07888","#88aa9c","#e2acd8","#c4d288","#d0f4f4","#ac84e4","#e0f088","#dcac98","#a8bcf4","#c0e0ac","#70b4e8","#a49c84","#c0cc8c","#a88068","#f89cd4","#c4ccc4","#c07cd8","#d09cbc","#7c7474","#ac90f8",
            "#b0a8d0","#a08af5","#a0cdf0","#6ee6a0","#ecd8b8","#80b4d4","#98a4f8","#f8aec4","#f0fff8","#b4f070","#a8a0e6","#78c2ec","#dcc4b4","#e2d098","#a0e870","#6878b8","#98c898","#d4d8a8","#cc60f0","#88f8f4","#946c7c","#6ca0a8","#7a68b4","#b07090","#c87878","#e86888","#98e4dc","#f0cc88","#8a6c94","#94c8cc","#88f868","#d0e070","#aaa88c","#c0b878","#9c84cc","#d8acdc","#84c48c","#d8f880","#d0a8b8",
            "#a8c8cc","#f860f0","#949880","#dc88f0","#5a806a","#d890b0","#88f8d0","#7088f8","#a0b878","#b0f878","#88f898","#fae8bc","#a084f0","#b45c8c","#d4e478","#98cc68","#a09ce0","#a0fca0","#e868b8","#88e8dc","#f4e0d4","#f08468","#c4b888","#d0c8e8","#8a7ae8","#b4fa84","#e4b098","#a8f8c0","#849488","#80c080","#f87068","#8cdcd4","#70a098","#d068b0","#ff84d4","#70c098","#8a78e0",
            "#b0e0dc","#78f0f0","#6cc0b4","#f0d078","#ece070","#9888f8","#e4c0f0","#e89868","#bcb890","#747090","#d8d478","#b868b4","#6890a8","#e0a0f8","#a07ad8","#d0c488","#a4c490","#6688c4","#fa7aa0","#60e8a0","#a8bcbc","#7098c0","#f4b080","#e4b0b0",
            "#f8f490","#d880a8","#968c94","#c898b8","#fa80fa","#b0f8e8","#c0e0fa","#f49c70","#eea078","#c47098","#fdeef8","#d888b0","#a8b8d0","#70c8f0","#ccdce4","#c0e8d0","#d070e0","#b8dce0","#b0a8e8","#88b0a0","#78a0a4","#d0f8cc",
            "#b0c8e8","#70fa70","#94ac88","#c0fa80","#f060e0","#b4aee0","#a0e870","#a080b0","#a49aaa","#a8b8f4","#f87498","#8cc4aa","#fec0a0","#d87cd0","#d47090","#f0b894","#ccbcd8","#bcb0cc","#d494b4","#70b860","#f898d4","#94b07c","#c0e0cc","#7898ec",
            "#80b4e4","#8ebc70","#e08870","#8cb0f4","#b0c0e0","#ccf090","#9070f0","#e8f470","#78fab0","#e098c0","#d8a088","#a8d0e0","#aca070","#88b088","#b8c070","#dc9898",
            "#f09098","#70f4f8","#d4b8c4","#bca8c8","#8c7494","#c478a8","#dcb484","#9c7870","#78fad0","#888488","#80d470","#e4e0f8","#c0cca0",
            "#a08aa4","#8cf890","#fa7078","#9070c0","#d4a8d4","#c8bc84","#e07c84","#d89888","#ece878","#60f8f8","#b4b8e8","#bcb078",
            "#78b4e0","#8c9ce0","#a4a480","#b088f8","#e088b8","#a8e8f0","#6888f0","#c4f490","#e06480","#e070e0","#7c7078","#7c70e8",
            "#d4ea9c","#b8a0d0","#fec890","#b4ec90","#e0eaa0","#6c70b0","#a0a0cc","#789c68",
            "#b47c78","#e2f4a8","#cce8d8","#c4b0b8","#b4e0d8","#ff9c6c","#8adcc8","#ace0d8",
            "#cc80e6","#70f8f8","#8888c8","#988090","#a08c9c","#aca0f0","#b8cce4","#74dccc",
            "#d0bc90","#f8a0b8","#e498c8","#ff84d4","#88d0a8","#e09c90","#9090e0","#949aa0",
            "#88f898","#84b0d4","#d8a0e0","#dc8070","#d8f09c","#90e4a8","#e868c0",
            "#a8d0e8","#a8c0a8","#acc09c","#8880e0","#f8a0f4","#f89068","#98e4d4",
            "#fad4a0","#9cb0a4","#90c4f4","#84dcdc","#b4aaa8","#98cc7c","#7c6cb8","#64f0c8",
            "#78cc90","#7cf070","#e4c8d4","#e878ec","#8c9494","#ee8c70","#b0fcd8","#d49ce8",
            "#a08080","#9c68bc","#78fca8","#c270e8","#90c8f0","#fed068","#e4a0b0","#9c9c90",
            "#a0f880","#e090d8","#e87c60","#b07088","#c4d4b0","#70e8a0",
            "#d484bc","#b8e880","#a8e0a0","#988890","#78a8dc",
            "#d4ac84","#e08494","#d0d8ec","#9878bc","#b4f4f8",
            "#c4dcf8","#f890f4","#ff68b0","#f88098","#a890ec","#f0cc70","#f8dc80","#a898b0","#98c498","#78e090","#788890","#c888e0","#b8e8f8","#a088d0","#68d070","#a0c4a0","#b070b8","#b07cb0","#dcc078","#78b4d4","#d4b4b0","#a09cc0","#ffa0a0","#806898","#78ec60","#a8f890","#f0f480","#c0e0a0","#e87870","#dcdcc8","#6cc8e4","#607088","#90e4f0","#9880a8","#ecfce4","#88acdc","#74ccac","#7c6898","#fcac88",
            "#88fab8","#cce8f4","#70b0e8","#e078e0","#e46898","#74b868","#d49898","#a0f078","#f4d4cc","#d0f4f4","#b0d4ec","#9078e0","#a87880","#e0dc90","#d060a0","#bcc878","#68b0e4","#6880bc","#e0ec90","#6c8cbc","#a0fce8","#bcd0e0","#909c78","#dcc4a0","#88e0a0","#ecb08c",
            "#b894cc","#70d0f8","#c8a4dc","#ccc090","#c8f888","#7098f8","#ec8cd4","#bc8cc8","#c4d4f0","#b0ecc8","#98b8d0","#b4f8f8","#c8a0d4","#70a468","#a0f078","#60d4dc","#c4dce0","#fffcf8","#ac80b4","#8ce488",
            "#eef880","#ecead0","#f0e8e8","#f8b8a0","#70f8f8","#78d8d0","#d888e4","#d498d0","#c0d4d8","#e09c70","#f8a4bc","#98b498","#a8e070","#e0f4b8","#68789c","#e8bc70","#ac68b8","#7468b8","#90e0a0","#a89468","#68ffb0","#88f8d8","#c0fc88","#e8c0d4","#f870a8","#88a0b8","#f0ecdc",
            "#b2ae90","#ececec","#a0b4fc","#ecc498","#809088","#f4c0d4","#bcd4d8","#ffc868","#d06888","#b09070","#a0ac6c","#807c98","#8c9cbc","#907070","#f88098","#8c68b8","#c8e0f4","#88f4e0","#aca8fc",
            "#96a0cc","#988880","#a0f4a8","#78a8d4","#cc70e0","#a0a8e0","#b8c0f8","#c89870","#90f0e4","#b4c0d4","#747c9c","#ece0f4","#60e090","#88e8d8","#f8c4dc","#d87880","#ccc8a0","#70f4f8","#c4a4d4",
            "#80a068","#f0f0e4","#9880d0","#b4f0f4","#b0b0d4","#b0e890","#98e4a8","#988898","#a0bcd0","#60e8d8","#f8d898","#eceadc","#f8a888","#f47888",
            "#787e78","#9060d0","#b070d8","#8060c0","#8888c0","#e06880","#60d4b0","#8070e0","#a0b4a8","#d4eca8","#ec68c8","#9060ec","#a0acd0","#c070f0","#c87868",
            "#d878cc","#f8b8a0","#90fc60","#909478","#b8d0c8","#a080d8","#ff78e8","#80f0cc","#d880f0","#b0d4d4","#f0e8a0","#808468",
            "#b09868","#a880cc","#b868a4","#80a8e0","#7080d8","#90c488","#f0c080","#d0ec98","#88b060","#dc60d8","#d0f0c0","#c48890","#d87880","#68a4a8","#8470a4","#78a088","#b4b8b0","#e090a0","#68c488","#9c7c88",
            "#b078f0","#ecd090","#dca878","#a878f8","#c888bc","#ec70e8","#98e888","#d0e068","#b468a4","#80a860",
            "#ccb8f0","#a070e0","#fae4a0","#809080","#d868cc","#70e860","#7898dc","#7080f0","#b8f4f8","#88b498","#70c0d8","#70e8f8","#e8a0b0",
            "#9c7890","#8cc4b4","#6ce868","#a0dc78","#9c70a4","#9478a0","#b0c88c","#b0bcb8","#dc88dc","#a0d4e8","#c8f4a0","#dc6878",
            "#c8e4a8","#fffac0","#a0ee80","#909c98","#bcdcac","#7098c8","#d4f8fc","#fccce4","#cca080","#a08cd0","#80b4f8","#94809c","#fbece8","#8094cc","#b8e8a8","#c8b888","#e0d080","#78d4ec","#acd0fc","#b4acc8","#e8f498","#e0a868","#b49cec","#8cb0d0","#6cc8bc","#f0a490","#a4dc7c","#7078d8","#94a0d4","#bce8c4","#f0c0b8","#f8e480","#fcecc0","#a8b4e8","#c4a89c","#dcd4a8","#78f4a8","#70e8c0","#88c090","#b888e0","#88e0d0","#70b478","#f8dcdc","#78bce4","#98b8d4","#68f8f8","#b4a47c","#c46880",
            "#f49090","#70dc60","#cce888","#dce0c0","#80c0a4","#7c78a4","#ec68e0","#dce860","#eca0d0","#c094ec","#9c889c","#d08c6c","#f07480","#a8dcc8","#98a8e8","#94b8e0","#70dc68","#b888ec","#f08c70","#9ce070","#b8dcf8","#68a4dc","#988090","#6ce8b4","#9cc0bc","#a870e0","#8c7c68","#dcc870","#b8d4a8","#bce4d8","#a8a098","#c490a4","#ccb888","#a8d880","#7880f8","#b4b480","#e878e0","#c8d8dc","#84d8c8","#888868","#c088b0","#bcecfc"
          ]}
        }
      }
    },
    {
      "mark": {"type": "bar", "filled": false, "color": "black", "strokeOpacity": 0.18, "strokeWidth": 1.5}
    }
  ]
}
